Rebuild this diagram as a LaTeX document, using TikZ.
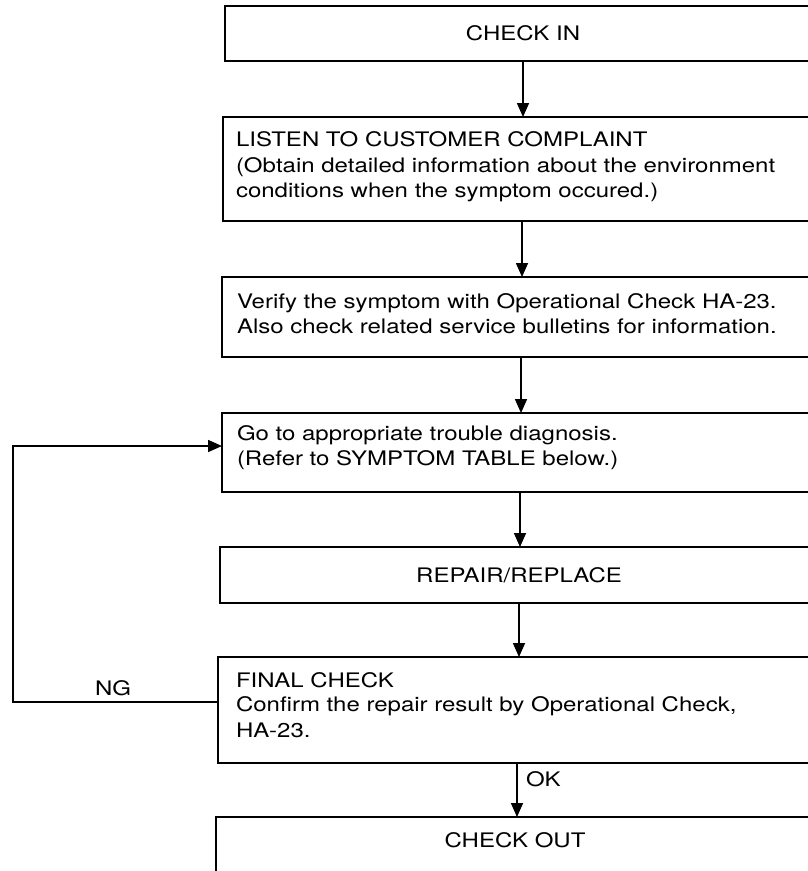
\documentclass[tikz,border=0pt]{standalone}
\usepackage{fontspec}
\setmainfont{TeX Gyre Heros}[FakeStretch=1.2]
\usetikzlibrary{arrows.meta}
\begin{document}
\begin{tikzpicture}[x=1pt,y=-1pt,
  box/.style={draw, line width=1.6pt, inner sep=0pt, outer sep=0pt,
    font=\fontsize{20}{25.5}\selectfont},
  txt/.style={anchor=base west, inner sep=0pt, outer sep=0pt,
    font=\fontsize{20}{25.5}\selectfont},
  lbl/.style={inner sep=0pt, outer sep=0pt, font=\fontsize{20}{25.5}\selectfont},
  arr/.style={line width=1.6pt, -{Triangle[length=14pt,width=12pt]}},
  conn/.style={line width=1.6pt}]
\useasboundingbox (0,0) rectangle (808,871);
\clip (0,0) rectangle (808,871);
% boxes
\node[box, minimum width=596pt, minimum height=55pt] (b1) at (523,33.5) {CHECK IN};
\node[box, minimum width=598pt, minimum height=104pt] (b2) at (522,169) {};
\node[box, minimum width=598pt, minimum height=80pt] (b3) at (521,317) {};
\node[box, minimum width=596pt, minimum height=79pt] (b4) at (520,452.5) {};
\node[box, minimum width=598pt, minimum height=56pt] (b5) at (519,575) {REPAIR/REPLACE};
\node[box, minimum width=598pt, minimum height=106pt] (b6) at (517,710) {};
\node[box, minimum width=598pt, minimum height=83pt] (b7) at (515,858.5) {};
% texts
\node[txt] (t21) at (236,146) {LISTEN TO CUSTOMER COMPLAINT};
\node[txt] (t22) at (236,172) {(Obtain detailed information about the environment};
\node[txt] (t23) at (236,197) {conditions when the symptom occured.)};
\node[txt] (t31) at (237,308) {Verify the symptom with Operational Check HA-23.};
\node[txt] (t32) at (237,333) {Also check related service bulletins for information.};
\node[txt] (t41) at (237,440) {Go to appropriate trouble diagnosis.};
\node[txt] (t42) at (237,465) {(Refer to SYMPTOM TABLE below.)};
\node[txt] (t61) at (236,687) {FINAL CHECK};
\node[txt] (t62) at (236,711) {Confirm the repair result by Operational Check,};
\node[txt] (t63) at (236,737) {HA-23.};
\node[lbl] (t7) at (515,840) {CHECK OUT};
\node[lbl] (ng) at (113,688) {NG};
\node[lbl, anchor=west] (ok) at (526,779) {OK};
% connectors
\draw[arr] (b1.south) -- (b1.south |- b2.north);
\draw[arr] (b2.south) -- (b2.south |- b3.north);
\draw[arr] (b3.south) -- (b3.south |- b4.north);
\draw[arr] (b4.south) -- (b4.south |- b5.north);
\draw[arr] (b5.south) -- (b5.south |- b6.north);
\draw[arr] (b6.south) -- (b6.south |- b7.north);
\coordinate (c1) at (13,702);
\coordinate (c2) at (13,446);
\draw[arr] (c1 -| b6.west) -- (c1) -- (c2) -- (c2 -| b4.west);
\end{tikzpicture}
\end{document}
